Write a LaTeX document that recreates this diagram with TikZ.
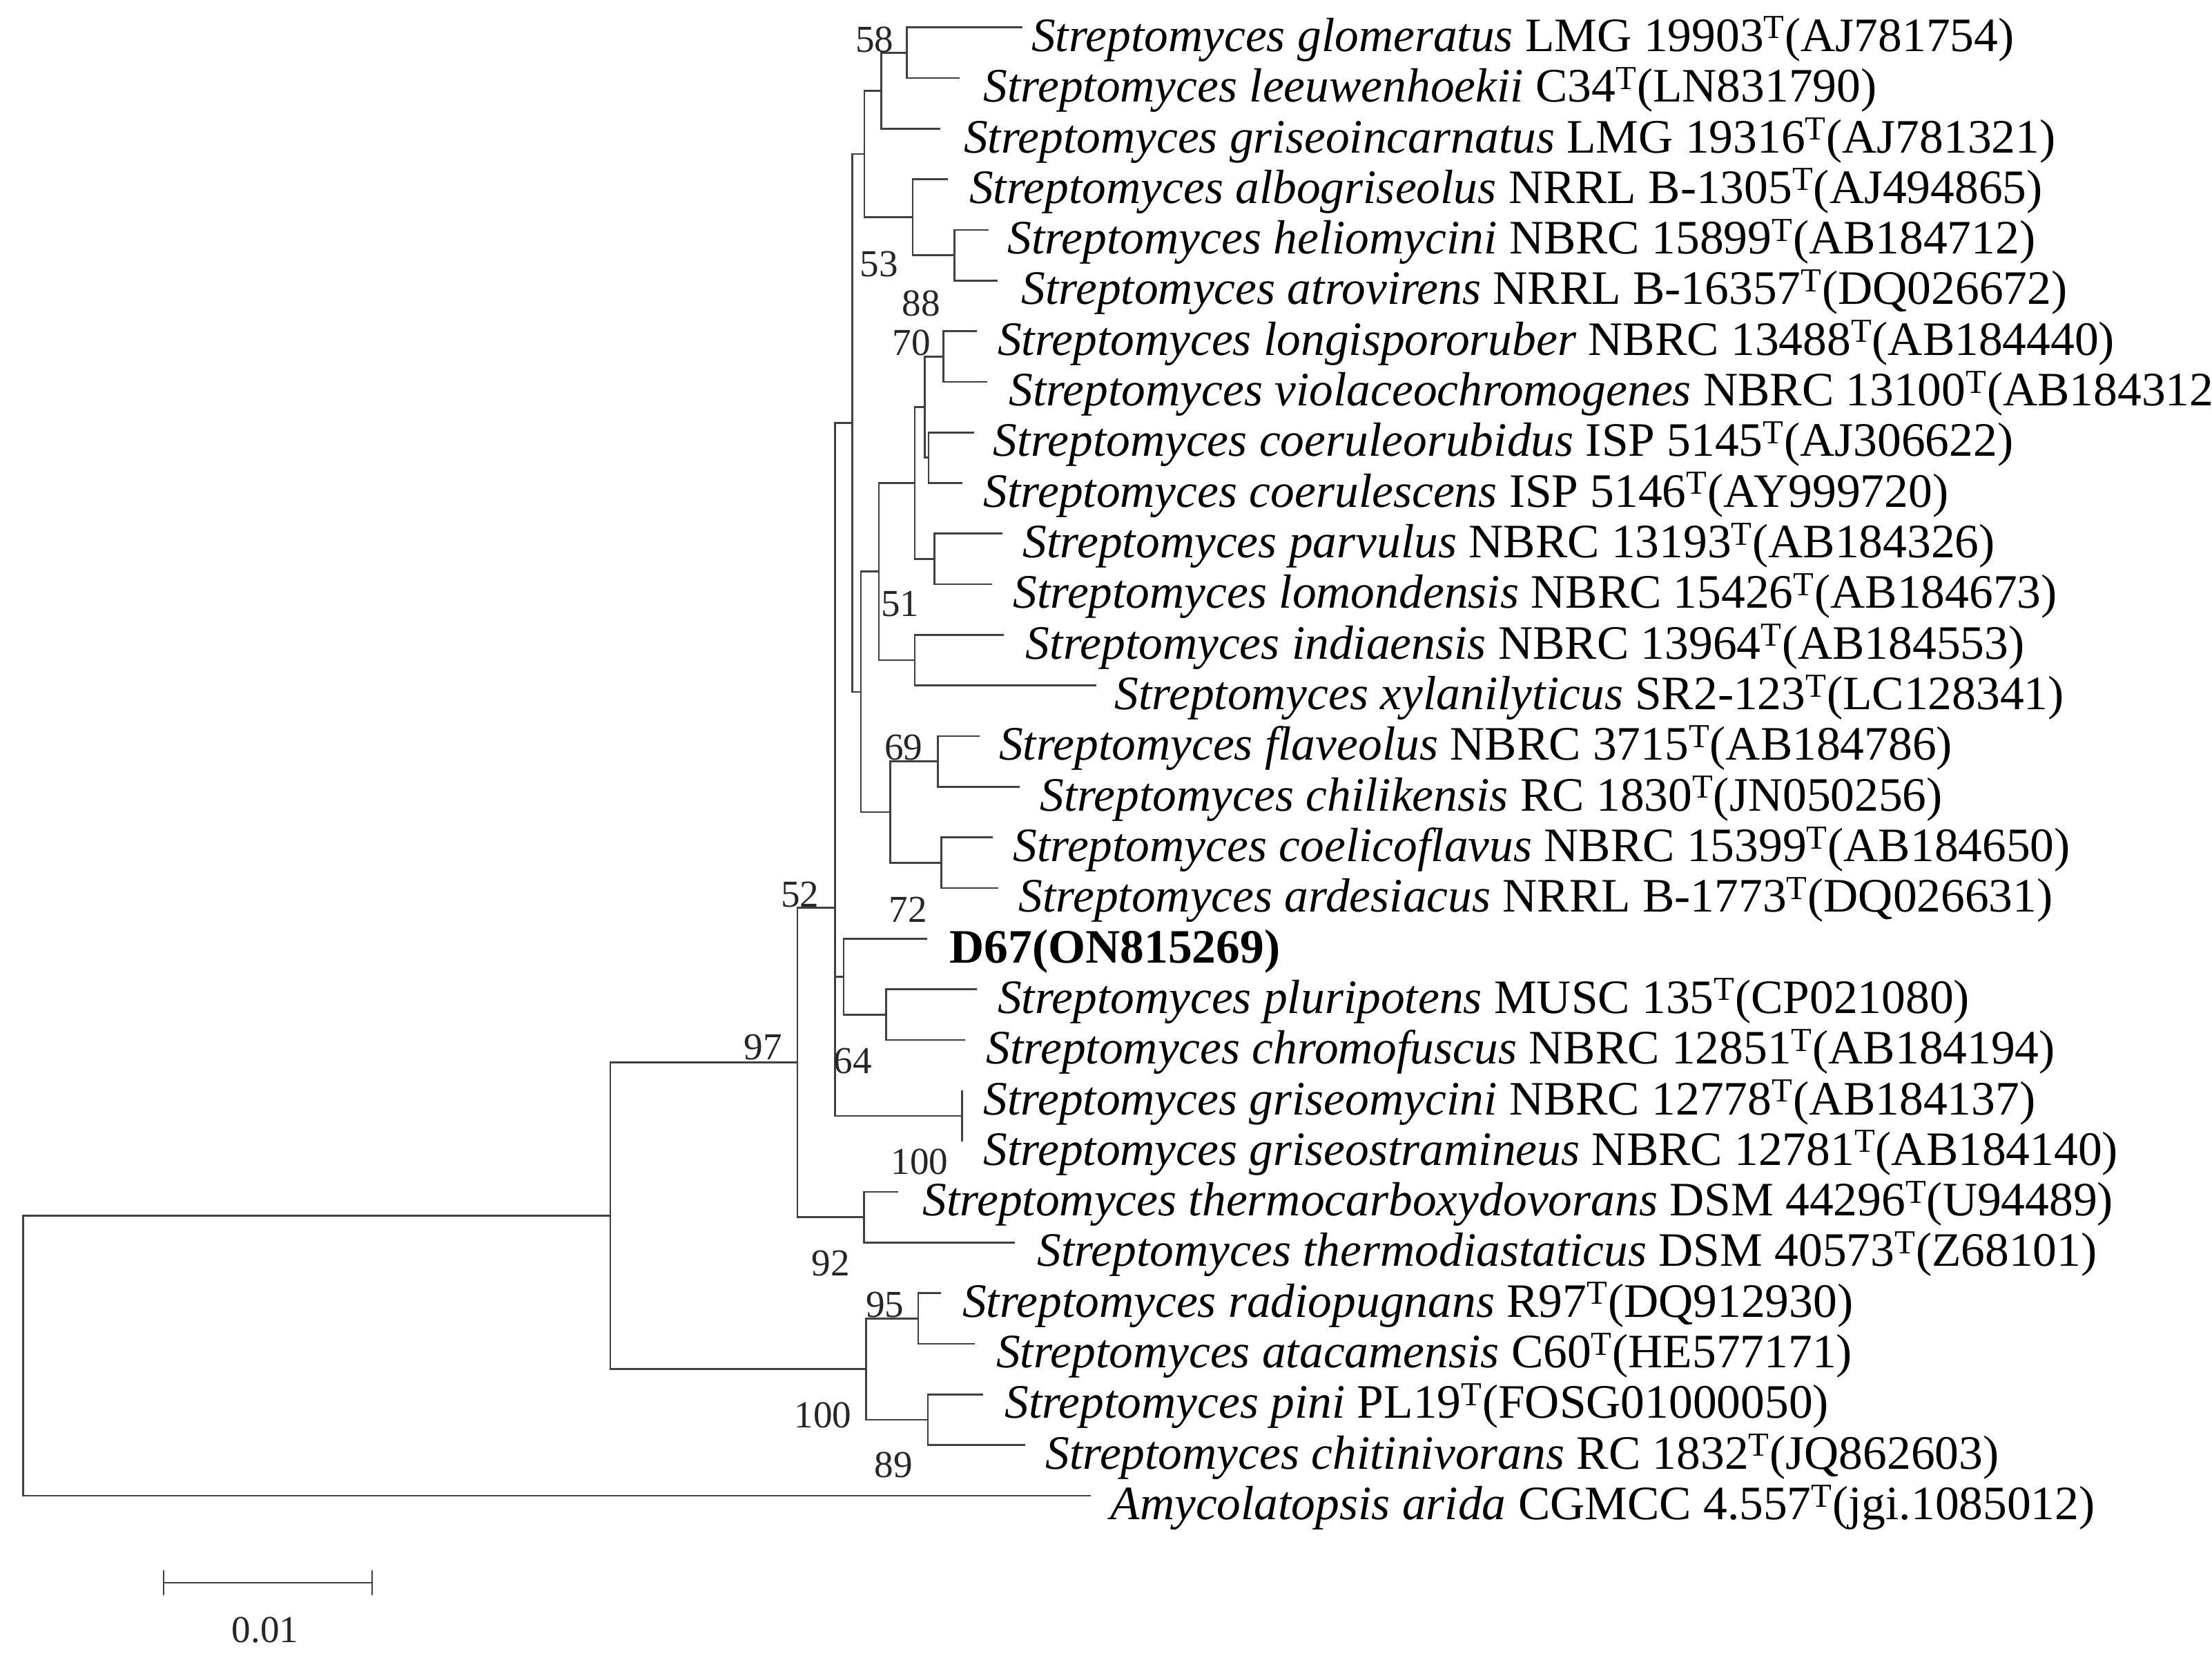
\documentclass[tikz,border=0pt]{standalone}
\usepackage{fontspec}
\setmainfont{Liberation Serif}
\newcommand{\Tsup}{\textsuperscript{T}}
\newcommand{\Sp}[1]{\textit{Streptomyces #1}}
\begin{document}
\begin{tikzpicture}[x=1pt,y=-1pt,
  br/.style={draw=black!75,line width=1.3pt},
  leaf/.style={anchor=base west,inner sep=0pt,font=\fontsize{34}{40}\selectfont},
  bs/.style={inner sep=0pt,font=\fontsize{27}{30}\selectfont,text=black!85}]
\useasboundingbox (0,0) rectangle (1568,1175);
% leaf tips and labels
\foreach \i/\tx/\lx/\txt in {
1/725/731/{\Sp{glomeratus} LMG 19903\Tsup(AJ781754)},
2/680/697/{\Sp{leeuwenhoekii} C34\Tsup(LN831790)},
3/666.5/683/{\Sp{griseoincarnatus} LMG 19316\Tsup(AJ781321)},
4/672/687/{\Sp{albogriseolus} NRRL B-1305\Tsup(AJ494865)},
5/700.8/714/{\Sp{heliomycini} NBRC 15899\Tsup(AB184712)},
6/707.3/724/{\Sp{atrovirens} NRRL B-16357\Tsup(DQ026672)},
7/692.6/707/{\Sp{longispororuber} NBRC 13488\Tsup(AB184440)},
8/700/715/{\Sp{violaceochromogenes} NBRC 13100\Tsup(AB184312)},
9/690.6/704/{\Sp{coeruleorubidus} ISP 5145\Tsup(AJ306622)},
10/682/697/{\Sp{coerulescens} ISP 5146\Tsup(AY999720)},
11/710.5/725/{\Sp{parvulus} NBRC 13193\Tsup(AB184326)},
12/703.2/718/{\Sp{lomondensis} NBRC 15426\Tsup(AB184673)},
13/711.7/727/{\Sp{indiaensis} NBRC 13964\Tsup(AB184553)},
14/777/790/{\Sp{xylanilyticus} SR2-123\Tsup(LC128341)},
15/694.6/708/{\Sp{flaveolus} NBRC 3715\Tsup(AB184786)},
16/722.8/737/{\Sp{chilikensis} RC 1830\Tsup(JN050256)},
17/703.5/718/{\Sp{coelicoflavus} NBRC 15399\Tsup(AB184650)},
18/707.6/722/{\Sp{ardesiacus} NRRL B-1773\Tsup(DQ026631)},
19/657/673/{\textbf{D67(ON815269)}},
20/692.6/707/{\Sp{pluripotens} MUSC 135\Tsup(CP021080)},
21/684/699/{\Sp{chromofuscus} NBRC 12851\Tsup(AB184194)},
22/682/697/{\Sp{griseomycini} NBRC 12778\Tsup(AB184137)},
23/682/697/{\Sp{griseostramineus} NBRC 12781\Tsup(AB184140)},
24/636.9/654/{\Sp{thermocarboxydovorans} DSM 44296\Tsup(U94489)},
25/719.3/735/{\Sp{thermodiastaticus} DSM 40573\Tsup(Z68101)},
26/666.8/682/{\Sp{radiopugnans} R97\Tsup(DQ912930)},
27/690.8/706/{\Sp{atacamensis} C60\Tsup(HE577171)},
28/696.8/712/{\Sp{pini} PL19\Tsup(FOSG01000050)},
29/726.8/741/{\Sp{chitinivorans} RC 1832\Tsup(JQ862603)},
30/773/787/{\textit{Amycolatopsis arida} CGMCC 4.557\Tsup(jgi.1085012)}}{
  \pgfmathsetmacro\yy{19.4+(\i-1)*35.88}
  \coordinate (L\i) at (\tx,\yy);
  \node[leaf] (t\i) at (\lx,\yy+17) {\txt};
}
% internal nodes
\coordinate (R) at (16.5,960.65);
\coordinate (F) at (432.6,861.5);
\coordinate (E) at (565.3,753);
\coordinate (H) at (612.4,862.55);
\coordinate (G) at (614,970.25);
\coordinate (G1) at (650.8,934.35);
\coordinate (G2) at (657.8,1006.15);
\coordinate (A) at (592,643.4);
\coordinate (B) at (604.2,299.7);
\coordinate (K) at (598,692.1);
\coordinate (K1) at (628.2,719.05);
\coordinate (Q) at (682,790.85);
\coordinate (T1) at (612.7,109.1);
\coordinate (N1) at (624.6,64.3);
\coordinate (N0) at (642.8,37.35);
\coordinate (N2) at (647,153.9);
\coordinate (N3) at (676.6,180.85);
\coordinate (C) at (610.2,490.3);
\coordinate (D) at (623,405.1);
\coordinate (D1) at (648.5,342.3);
\coordinate (D1a) at (655.4,288.5);
\coordinate (D1aa) at (668.9,252.65);
\coordinate (D1ab) at (658.3,324.35);
\coordinate (D1b) at (662.4,396.15);
\coordinate (D2) at (648.5,467.9);
\coordinate (P) at (631,575.55);
\coordinate (P1) at (664.9,539.65);
\coordinate (P2) at (667.3,611.45);
% branches
\foreach \p/\c in {R/F,R/L30,F/E,F/G,E/A,E/H,H/L24,H/L25,G/G1,G/G2,G1/L26,G1/L27,G2/L28,G2/L29,
  A/B,A/K,A/Q,Q/L22,Q/L23,K/L19,K/K1,K1/L20,K1/L21,
  B/T1,B/C,T1/N1,T1/N2,N1/N0,N1/L3,N0/L1,N0/L2,N2/L4,N2/N3,N3/L5,N3/L6,
  C/D,C/P,D/D1,D/D2,D1/D1a,D1/D1b,D1a/D1aa,D1a/D1ab,D1aa/L7,D1aa/L8,D1ab/L9,D1ab/L10,
  D1b/L11,D1b/L12,D2/L13,D2/L14,P/P1,P/P2,P1/L15,P1/L16,P2/L17,P2/L18}
  \draw[br] (\p) |- (\c);
% bootstrap values
\node[bs] (b58) at (620,28) {58};
\node[bs] (b53) at (623,187) {53};
\node[bs] (b88) at (653,215) {88};
\node[bs] (b70) at (646,243) {70};
\node[bs] (b51) at (638,428) {51};
\node[bs] (b69) at (640.4,530) {69};
\node[bs] (b52) at (567,634) {52};
\node[bs] (b72) at (643.7,644.6) {72};
\node[bs] (b97) at (540.9,742.3) {97};
\node[bs] (b64) at (604.5,751.7) {64};
\node[bs] (b100a) at (651.8,823.5) {100};
\node[bs] (b92) at (589,895.3) {92};
\node[bs] (b95) at (627.3,924.9) {95};
\node[bs] (b100b) at (583.4,1003) {100};
\node[bs] (b89) at (633.4,1038) {89};
% scale bar
\coordinate (s1) at (115.9,1121.6);
\coordinate (s2) at (263.7,1121.6);
\draw[br] (s1) -- (s2);
\draw[br] ([yshift=-8.7pt]s1) -- ([yshift=8.7pt]s1);
\draw[br] ([yshift=-8.7pt]s2) -- ([yshift=8.7pt]s2);
\node[bs] (sl) at (188,1155.3) {0.01};
\end{tikzpicture}
\end{document}
